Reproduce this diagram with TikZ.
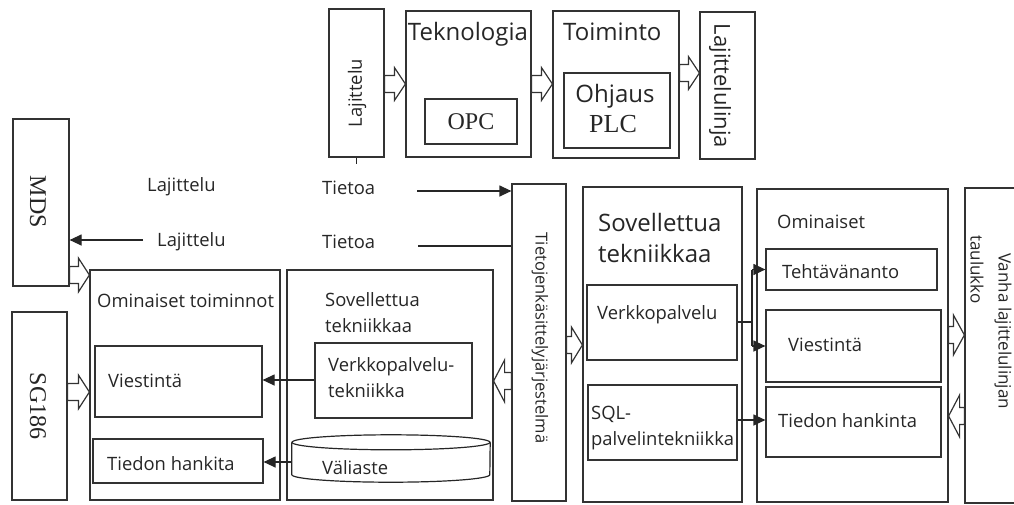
\documentclass[tikz,border=0pt]{standalone}
\usepackage{fontspec}
\setmainfont{Open Sans}
\newfontfamily\timesfont{Liberation Serif}
\usetikzlibrary{shapes.geometric, arrows.meta, positioning, calc}

\tikzset{
  box/.style={draw=black!80, line width=1.2pt, rectangle, inner sep=0pt},
  txt/.style={inner sep=0pt, anchor=west, text=black!85, font=\fontsize{18.4}{26}\selectfont},
  bigtxt/.style={inner sep=0pt, anchor=west, text=black!85, font=\fontsize{24}{31}\selectfont},
  serif/.style={inner sep=0pt, text=black!85, font=\timesfont\fontsize{24}{28}\selectfont},
  line/.style={draw=black!85, line width=1.2pt},
  flow/.style={line, -{Triangle[length=12pt,width=11pt]}},
  barrow/.style={draw=black!80, fill=white, line width=1.2pt, line join=miter,
    to path={let \p1=(\tikztostart), \p2=(\tikztotarget), \n1={sign(\x2-\x1)} in
      (\x1,{\y1+8.5pt}) -- ({\x2-\n1*11pt},{\y1+8.5pt}) -- ({\x2-\n1*11pt},{\y1+#1})
      -- (\x2,\y1) -- ({\x2-\n1*11pt},{\y1-#1}) -- ({\x2-\n1*11pt},{\y1-8.5pt})
      -- (\x1,{\y1-8.5pt}) -- cycle}},
  barrow/.default=17pt,
}

\begin{document}
\begin{tikzpicture}[x=1pt, y=-1pt]
    \clip (0,0) rectangle (1014,504);

    % top row
    \node[box, minimum width=55pt, minimum height=148pt] (lajtop) at (356.5,83) {};
    \node[txt, rotate=90, anchor=center] (lajtoptxt) at (357,93) {Lajittelu};
    \node[box, minimum width=125pt, minimum height=146pt] (tekno) at (468.5,84) {};
    \node[bigtxt, anchor=center] (teknotxt) at (468,34) {Teknologia};
    \node[box, serif, minimum width=92pt, minimum height=45pt] (opc) at (471,121.5) {OPC};
    \node[box, minimum width=126pt, minimum height=147pt] (toim) at (616,84.5) {};
    \node[bigtxt] (toimtxt) at (563,32) {Toiminto};
    \node[box, minimum width=106pt, minimum height=75pt] (ohj) at (617,110.5) {};
    \node[bigtxt, anchor=center] (ohjtxt) at (615,96) {Ohjaus};
    \node[serif, font=\timesfont\fontsize{26}{28}\selectfont] (plc) at (613,124) {PLC};
    \node[box, minimum width=55pt, minimum height=147pt] (linja) at (727.5,85.5) {};
    \node[bigtxt, rotate=-90, anchor=center, font=\fontsize{22}{26}\selectfont] (linjatxt) at (720,86) {Lajittelulinja};

    \draw[barrow=16.5pt] (lajtop.east |- 0,84) to (tekno.west |- 0,84);
    \draw[barrow=16.5pt] (tekno.east |- 0,84) to (toim.west |- 0,84);
    \draw[barrow=16.5pt] (toim.east |- 0,73) to (linja.west |- 0,73);
    \draw[line] (lajtop.south) -- ++(0,6);

    % left side
    \node[box, minimum width=56pt, minimum height=167pt] (mds) at (41,202.5) {};
    \node[serif, rotate=-90] (mdstxt) at (38,202) {MDS};
    \node[box, minimum width=55pt, minimum height=188pt] (sg) at (39.5,406) {};
    \node[serif, rotate=-90] (sgtxt) at (38,406) {SG186};

    \node[txt] (laj1) at (147,187) {Lajittelu};
    \node[txt] (tie1) at (322,188) {Tietoa};
    \node[txt] (laj2) at (157,242) {Lajittelu};
    \node[txt] (tie2) at (322,242) {Tietoa};

    \node[box, minimum width=190pt, minimum height=230pt] (omt) at (185,385) {};
    \node[txt] (omttxt) at (97,301) {Ominaiset toiminnot};
    \node[box, minimum width=167pt, minimum height=71pt] (viesL) at (178.5,381.5) {};
    \node[txt] (viesLtxt) at (108,381) {Viestintä};
    \node[box, minimum width=170pt, minimum height=44pt] (tiedL) at (178,461) {};
    \node[txt] (tiedLtxt) at (107,464) {Tiedon hankita};

    \node[box, minimum width=206pt, minimum height=230pt] (sovL) at (390,385) {};
    \node[txt, align=left] (sovLtxt) at (325,313) {Sovellettua\\tekniikkaa};
    \node[box, minimum width=157pt, minimum height=75pt] (verkL) at (393.5,380.5) {};
    \node[txt, align=left] (verkLtxt) at (328,378) {Verkkopalvelu-\\tekniikka};
    \node[inner sep=0pt, minimum width=198pt, minimum height=47pt] (vali) at (391,458.5) {};
    \draw[line] ([yshift=-7.5pt]vali.north) ellipse [x radius=99pt, y radius=7.5pt];
    \draw[line] ([yshift=-7.5pt]vali.north west) -- ([yshift=7.5pt]vali.south west)
      arc[start angle=180, end angle=360, x radius=99pt, y radius=7.5pt]
      -- ([yshift=-7.5pt]vali.north east);
    \node[txt] (valitxt) at (322,468) {Väliaste};

    \draw[barrow] (mds.east |- 0,275) to (omt.west |- 0,275);
    \draw[barrow] (sg.east |- 0,392) to (omt.west |- 0,392);

    \draw[flow] (verkL.west |- 0,380) -- (viesL.east |- 0,380);
    \draw[flow] (vali.west |- 0,462) -- (tiedL.east |- 0,462);

    % middle
    \node[box, minimum width=54pt, minimum height=317pt] (tkj) at (539,342.5) {};
    \node[txt, rotate=-90, anchor=center, font=\fontsize{16.5}{20}\selectfont] (tkjtxt) at (540,338) {Tietojenkäsittelyjärjestelmä};

    \coordinate (in1) at (417,191);
    \draw[flow] (in1) -- (tkj.west |- in1);
    \coordinate (in2) at (418,246);
    \draw[line] (in2) -- (tkj.west |- in2);
    \coordinate (out2) at (143,240);
    \draw[flow] (out2) -- (mds.east |- out2);

    \draw[barrow=21pt] (tkj.west |- 0,381) to (sovL.east |- 0,381);

    % right side
    \node[box, minimum width=159pt, minimum height=315pt] (sovR) at (662.5,344.5) {};
    \node[bigtxt, align=left] (sovRtxt) at (598,238) {Sovellettua\\tekniikkaa};
    \node[box, minimum width=150pt, minimum height=75pt] (verkR) at (662,322.5) {};
    \node[txt] (verkRtxt) at (597,315) {Verkkopalvelu};
    \node[box, minimum width=149pt, minimum height=75pt] (sqlR) at (662.5,422.5) {};
    \node[txt, align=left] (sqlRtxt) at (591,428) {SQL-\\palvelintekniikka};

    \draw[barrow=18pt] (tkj.east |- 0,345) to (sovR.west |- 0,345);

    \node[box, minimum width=191pt, minimum height=313pt] (omR) at (852.5,345.5) {};
    \node[txt] (omRtxt) at (777,222) {Ominaiset};
    \node[box, minimum width=171pt, minimum height=41pt] (teht) at (851.5,269.5) {};
    \node[txt] (tehttxt) at (782,272) {Tehtävänanto};
    \node[box, minimum width=175pt, minimum height=72pt] (viesR) at (853.5,346) {};
    \node[txt] (viesRtxt) at (788,345) {Viestintä};
    \node[box, minimum width=175pt, minimum height=70pt] (tiedR) at (853.5,422) {};
    \node[txt] (tiedRtxt) at (778,421) {Tiedon hankinta};

    \node[box, minimum width=70pt, minimum height=315pt] (vanha) at (1000,345.5) {};
    \node[txt, rotate=-90, font=\fontsize{17}{20}\selectfont] (vanhatxt) at (1003,253) {Vanha lajittelulinjan};
    \node[txt, rotate=-90, font=\fontsize{17}{20}\selectfont] (taultxt) at (977,235) {taulukko};

    \coordinate (vj) at (752,322);
    \draw[line] (verkR.east |- vj) -- (vj);
    \draw[line] (vj |- teht.west) -- (vj |- viesR.west);
    \draw[flow] (vj |- teht.west) -- (teht.west);
    \draw[flow] (vj |- viesR.west) -- (viesR.west);
    \draw[flow] (sqlR.east |- 0,420) -- (tiedR.west |- 0,420);

    \draw[barrow=20pt] (omR.east |- 0,335) to (vanha.west |- 0,335);
    \draw[barrow=21pt] (vanha.west |- 0,416) to (omR.east |- 0,416);
\end{tikzpicture}
\end{document}
